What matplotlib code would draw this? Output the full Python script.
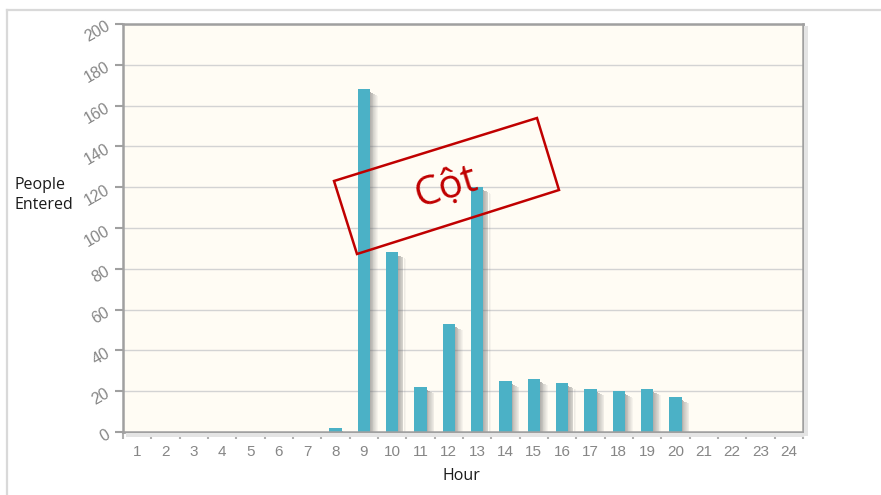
import numpy as np
import matplotlib
matplotlib.use('Agg')
import matplotlib.pyplot as plt
from matplotlib.patches import Polygon, Rectangle

# Data
hours = list(range(1, 25))
people = [0, 0, 0, 0, 0, 0, 0, 2, 168, 88, 22, 53, 120, 25, 26, 24, 21, 20, 21, 17, 0, 0, 0, 0]
y_ticks = list(range(0, 201, 20))

bar_color = '#4BB1C6'
bg_color = '#FFFCF4'
grid_color = '#D3D3D3'
tick_gray = '#868686'
red = '#C00000'

fig = plt.figure(figsize=(8.81, 4.95), dpi=100)
W, H = 881, 495

def fx(x):
    return x / W

def fy(y):
    return 1 - y / H

# outer light frame (top + left)
fig.add_artist(plt.Line2D([fx(7), 1.0], [fy(10), fy(10)], color='#D9D9D9', lw=1.6))
fig.add_artist(plt.Line2D([fx(7), fx(7)], [fy(10), 0.0], color='#D9D9D9', lw=1.6))

ax = fig.add_axes([fx(123), fy(432), fx(803) - fx(123), fy(24) - fy(432)])
ax.set_facecolor(bg_color)
ax.set_xlim(0.5, 24.5)
ax.set_ylim(0, 200)

# frame shadow on right and bottom
fig.add_artist(Rectangle((fx(804), fy(436)), fx(4), fy(26) - fy(436),
                         color='#E4E4E4', lw=0))
fig.add_artist(Rectangle((fx(126), fy(437)), fx(804) - fx(126), fy(433) - fy(437),
                         color='#E4E4E4', lw=0))

ax.set_yticks(y_ticks)
ax.grid(axis='y', color=grid_color, lw=1)
ax.set_axisbelow(True)

w = 0.44
x = np.array(hours)
v = np.array(people, dtype=float)

# soft shadow to the right of each bar
n = 9
for k in range(n):
    a = 0.5 * (1 - k / n)
    hs = np.where(v > 0, np.maximum(v - 1.5 - 0.2 * k, 0), 0)
    ax.bar(x + w / 2 + k * 0.03, hs, width=0.03, align='edge',
           color='#666666', alpha=a, lw=0, zorder=2)

ax.bar(x, v, width=w, color=bar_color, lw=0, zorder=3)

for s in ax.spines.values():
    s.set_color('#A0A0A0')
    s.set_linewidth(1.8)
    s.set_zorder(5)

# x ticks at category boundaries, labels at centres
ax.set_xticks(hours)
ax.set_xticklabels([str(h) for h in hours], fontsize=11, color=tick_gray,
                   family='Liberation Sans')
ax.set_xticks(np.arange(0.5, 25, 1), minor=True)
ax.tick_params(axis='x', which='major', length=0, pad=9)
ax.tick_params(axis='x', which='minor', length=5, color='#B0B0B0', width=1.5)

ax.set_yticklabels([str(t) for t in y_ticks], fontsize=11.5, color=tick_gray,
                   family='Liberation Sans', rotation=30, ha='right',
                   rotation_mode='anchor')
ax.tick_params(axis='y', length=6, color='#A0A0A0', width=1.5, pad=5)

fig.text(fx(461), fy(476), 'Hour', fontsize=11.5, family='Open Sans',
         color='#1a1a1a', ha='center', va='center')
fig.text(fx(15), fy(195), 'People\nEntered', fontsize=11.5, family='Open Sans',
         color='#1a1a1a', ha='left', va='center', linespacing=1.3)

# rotated red stamp
corners = [(334, 181), (537, 118), (559, 190), (357, 254)]
fig.add_artist(Polygon([(fx(px), fy(py)) for px, py in corners], closed=True,
                       fill=False, edgecolor=red, lw=1.8, zorder=10))
fig.text(fx(446), fy(188), 'Cột', fontsize=29, family='Open Sans', color=red,
         rotation=17, ha='center', va='center', rotation_mode='anchor', zorder=11)

fig.savefig('out.png', dpi=100, facecolor='white')
